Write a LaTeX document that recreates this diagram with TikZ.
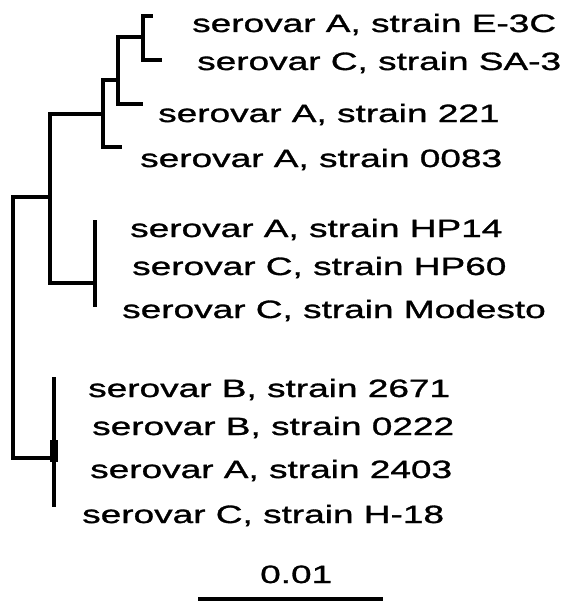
\documentclass[tikz,border=0pt]{standalone}
\usepackage{fontspec}
\setmainfont[FakeStretch=1.48,FakeBold=1.2]{Liberation Sans}
\begin{document}
\begin{tikzpicture}[x=1pt,y=-1pt,
  branch/.style={line width=3.3pt,line join=miter},
  taxon/.style={anchor=base west,inner sep=0pt,font=\fontsize{25}{30}\selectfont}]
\useasboundingbox (0,0) rectangle (569,602);
% leaf tips
\coordinate (l1) at (153,16);
\coordinate (l2) at (162,60);
\coordinate (l3) at (143,104);
\coordinate (l4) at (122,147);
\coordinate (l5) at (95,220);
\coordinate (l7) at (95,307);
\coordinate (l8) at (54,377);
\coordinate (l11) at (54,507);
% internal nodes
\coordinate (a1) at (143,37);
\coordinate (a2) at (118,80);
\coordinate (a3) at (103,114);
\coordinate (b) at (95,283);
\coordinate (c) at (50,197);
\coordinate (d) at (54,458);
\coordinate (root) at (13,327);
% branches
\draw[branch] (a1) |- (l1);
\draw[branch] (a1) |- (l2);
\draw[branch] (a2) |- (a1);
\draw[branch] (a2) |- (l3);
\draw[branch] (a3) |- (a2);
\draw[branch] (a3) |- (l4);
\draw[branch] (c) |- (a3);
\draw[branch] (c) |- (b);
\draw[branch] (l5) -- (l7);
\draw[branch] (root) |- (c);
\draw[branch] (root) |- (d);
\draw[branch] (l8) -- (l11);
\fill (50,440) rectangle (58,462);
% labels
\node[taxon] (t1) at (192,32) {serovar A, strain E-3C};
\node[taxon] (t2) at (197,70) {serovar C, strain SA-3};
\node[taxon] (t3) at (158,122) {serovar A, strain 221};
\node[taxon] (t4) at (140,167) {serovar A, strain 0083};
\node[taxon] (t5) at (130,237) {serovar A, strain HP14};
\node[taxon] (t6) at (132,275) {serovar C, strain HP60};
\node[taxon] (t7) at (122,318) {serovar C, strain Modesto};
\node[taxon] (t8) at (88,397) {serovar B, strain 2671};
\node[taxon] (t9) at (92,435) {serovar B, strain 0222};
\node[taxon] (t10) at (90,478) {serovar A, strain 2403};
\node[taxon] (t11) at (82,523) {serovar C, strain H-18};
% scale bar
\coordinate (s1) at (198,599);
\coordinate (s2) at (383,599);
\draw[branch] (s1) -- (s2);
\node[taxon] (sl) at (260,583) {0.01};
\end{tikzpicture}
\end{document}
